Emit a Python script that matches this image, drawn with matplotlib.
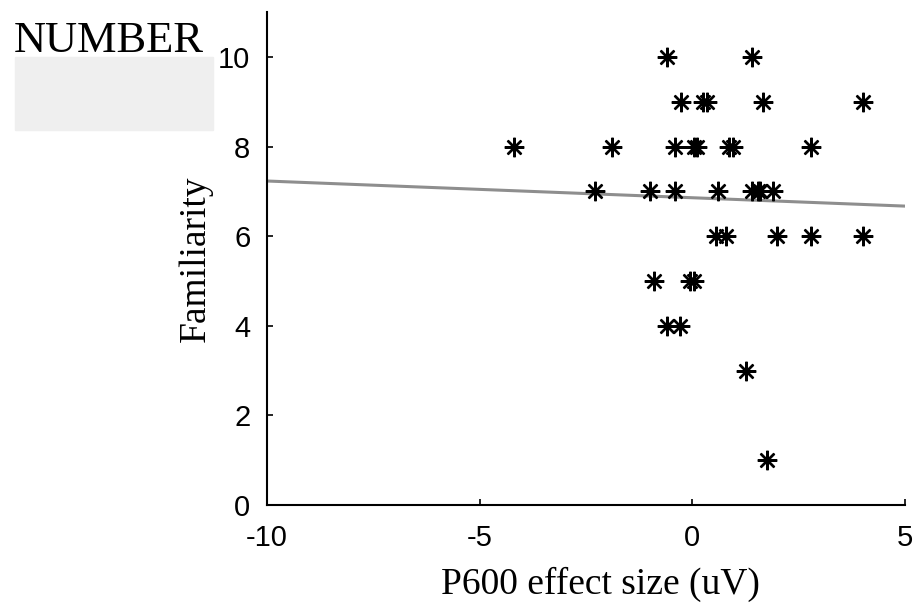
import numpy as np
import matplotlib.pyplot as plt
from matplotlib.patches import Rectangle

# P600 effect size (uV) vs familiarity rating
effect = [-0.6, 1.4,
          -0.26, 0.26, 0.35, 1.67, 4.0,
          -4.2, -1.9, -0.4, 0.05, 0.1, 0.85, 0.95, 2.8,
          -2.3, -1.0, -0.4, 0.6, 1.4, 1.55, 1.6, 1.9,
          0.55, 0.8, 2.0, 2.8, 4.0,
          -0.9, -0.05, 0.05,
          -0.6, -0.3,
          1.25,
          1.76]
familiarity = [10, 10,
               9, 9, 9, 9, 9,
               8, 8, 8, 8, 8, 8, 8, 8,
               7, 7, 7, 7, 7, 7, 7, 7,
               6, 6, 6, 6, 6,
               5, 5, 5,
               4, 4,
               3,
               1]
# fitted line end points
fit_x = [-10, 5]
fit_y = [7.23, 6.67]

xticks = [-10, -5, 0, 5]
yticks = [0, 2, 4, 6, 8, 10]

plt.rcParams['axes.unicode_minus'] = False

fig = plt.figure(figsize=(9.22, 6.03), dpi=100)
ax = fig.add_axes([0.2896, 0.1625, 0.692, 0.8175])

ax.plot(fit_x, fit_y, color='#8e8e8e', lw=2.2, zorder=1)
ax.plot(effect, familiarity, ls='none', marker=(8, 2, 0), ms=14,
        mec='black', mew=1.7, zorder=2)

ax.set_xlim(-10, 5)
ax.set_ylim(0, 11)
ax.set_xticks(xticks)
ax.set_yticks(yticks)
ax.spines['top'].set_visible(False)
ax.spines['right'].set_visible(False)
ax.spines['left'].set_linewidth(1.5)
ax.spines['bottom'].set_linewidth(1.5)
ax.tick_params(direction='in', length=4, width=1.2, labelsize=21)
ax.tick_params(axis='x', pad=14)
ax.tick_params(axis='y', pad=12)
for lab in ax.get_xticklabels() + ax.get_yticklabels():
    lab.set_family('Liberation Sans')

ax.set_xlabel('P600 effect size (uV)', family='Liberation Serif', fontsize=27)
ax.xaxis.set_label_coords(0.522, -0.125)
ax.set_ylabel('Familiarity', family='Liberation Serif', fontsize=27, labelpad=4)

# grey panel with the label in the upper left corner
fig.patches.append(Rectangle((15/922, 1 - 130/603), 198/922, 73/603,
                             transform=fig.transFigure, color='#efefef', zorder=0))
fig.text(14/922, 1 - 52/603, 'NUMBER', family='Liberation Serif', fontsize=32,
         va='baseline', ha='left')

fig.savefig('out.png', dpi=100)
